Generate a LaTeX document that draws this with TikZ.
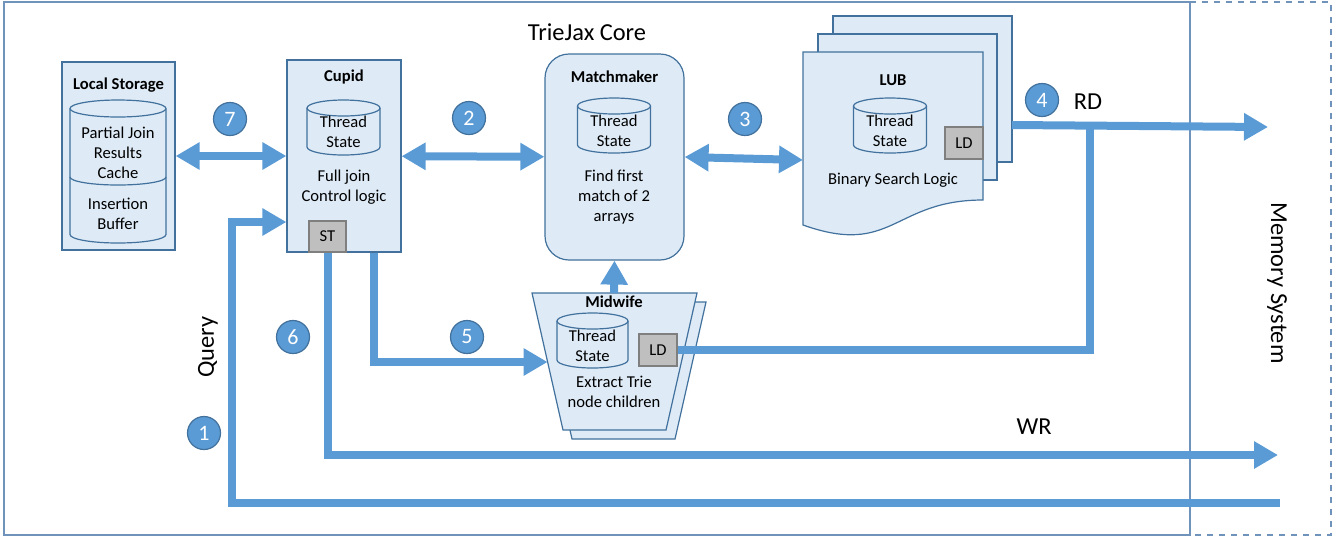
\documentclass[tikz,border=0pt]{standalone}
\usepackage{fontspec}
\setmainfont{Carlito}
\usetikzlibrary{arrows.meta}
\usetikzlibrary{positioning}
\definecolor{boxfill}{HTML}{DEEBF7}
\definecolor{boxline}{HTML}{41719C}
\definecolor{flow}{HTML}{5B9BD5}
\definecolor{corelin}{HTML}{6F93BA}
\definecolor{stfill}{HTML}{BFBFBF}
\definecolor{stline}{HTML}{7F7F7F}
\newcommand{\boxfont}[0]{\fontsize{8.3}{10}\selectfont}
\newcommand{\labfont}[0]{\fontsize{12.2}{14}\selectfont}
% cylinder: centre x, top y, width, height, end radius (all in px)
\newcommand{\drum}[5]{
\draw [boxline, fill=boxfill, line width=0.6pt] ({#1-#3/2},{#2+#5}) -- ({#1-#3/2},{#2+#4-#5})
    arc [start angle=180, end angle=0, x radius={#3/2}, y radius=#5]
    -- ({#1+#3/2},{#2+#5}) arc [start angle=0, end angle=-180, x radius={#3/2}, y radius=#5] -- cycle;
\draw [boxline, line width=0.6pt] ({#1-#3/2},{#2+#5}) arc [start angle=180, end angle=0, x radius={#3/2}, y radius=#5];
}

\begin{document}
\begin{tikzpicture}[x=0.5pt,y=-0.5pt]
\tikzstyle{unit} = [rectangle, draw=boxline, fill=boxfill, line width=0.6pt, inner sep=0]
\tikzstyle{title} = [font=\boxfont\bfseries, inner sep=0]
\tikzstyle{body} = [font=\boxfont, align=center, inner sep=0]
\tikzstyle{reg} = [rectangle, draw=stline, fill=stfill, line width=0.6pt, minimum width=19pt, minimum height=16pt, inner sep=0, font=\boxfont]
\tikzstyle{num} = [circle, draw=boxline, fill=flow, line width=0.6pt, minimum size=16.5pt, inner sep=0, text=white, font=\fontsize{11}{12}\selectfont]
\tikzstyle{arrow} = [flow, line width=4pt, -{Triangle[length=12pt,width=13pt]}]
\tikzstyle{twoway} = [flow, line width=4pt, {Triangle[length=12pt,width=13pt]}-{Triangle[length=12pt,width=13pt]}]

\useasboundingbox (0,0) rectangle (1336,537);

% frames
\draw [corelin, line width=0.8pt] (4,2) rectangle (1190,535);
\draw [corelin, line width=0.8pt, dashed] (1190,2) -- (1331,2) -- (1331,535) -- (1190,535);
\node (core) [font=\labfont, inner sep=0] at (587,32) {TrieJax Core};
\node (mem) [font=\labfont, inner sep=0, rotate=-90] at (1277,283) {Memory System};

% local storage
\node (local) [unit, minimum width=56.5pt, minimum height=94pt] at (118.5,156) {};
\node (localt) [title] at (118.5,85) {Local Storage};
\drum{118}{100}{96}{143}{8.5}
\draw [boxline, line width=0.6pt] (70,177) arc [start angle=180, end angle=0, x radius=48, y radius=8];
\node (cachet) [body] at (118,153) {Partial Join\\Results\\Cache};
\node (buft) [body] at (118,214) {Insertion\\Buffer};

% cupid
\node (cupid) [unit, minimum width=57pt, minimum height=96pt] at (344,156) {};
\node (cupidt) [title] at (344,77) {Cupid};
\drum{343.5}{100}{73}{55}{8}
\node (cupcyl) [body] at (343.5,132) {Thread\\State};
\node (cupidb) [body] at (344,187) {Full join\\Control logic};
\node (cupst) [reg, minimum width=18.5pt, minimum height=15.5pt] at (327.5,236.5) {ST};

% matchmaker
\node (match) [unit, rounded corners=12pt, minimum width=69.5pt, minimum height=103pt] at (614.5,157) {};
\node (matcht) [title] at (614.5,77) {Matchmaker};
\drum{614}{98}{73}{55}{8}
\node (mmcyl) [body] at (614,131) {Thread\\State};
\node (matchb) [body] at (614,197) {Find first\\match of 2\\arrays};

% lub (stacked documents)
\draw [boxline, fill=boxfill, line width=0.6pt] (833,16) rectangle (1012,162);
\draw [boxline, fill=boxfill, line width=0.6pt] (818,34) rectangle (997,180);
\draw [boxline, fill=boxfill, line width=0.6pt] (803,52) -- (983,52) -- (983,200)
    .. controls (893,200) and (893,257) .. (803,225) -- cycle;
\coordinate (lubw) at (803,160);
\coordinate (lube) at (1012,125);
\node (lubt) [title] at (893,80) {LUB};
\drum{890}{98}{73}{55}{8}
\node (lubcyl) [body] at (890,131) {Thread\\State};
\node (lubld) [reg] at (964,143) {LD};
\node (lubb) [body] at (893,180) {Binary Search Logic};

% midwife
\draw [boxline, fill=boxfill, line width=0.6pt] (541,302) -- (706,302) -- (675,439) -- (572,439) -- cycle;
\draw [boxline, fill=boxfill, line width=0.6pt] (532,293) -- (697,293) -- (666,430) -- (563,430) -- cycle;
\coordinate (mwtop) at (614,293);
\coordinate (mwin) at (547.6,362);
\node (mwt) [title] at (614,302) {Midwife};
\drum{592.5}{313}{71}{55}{8}
\node (mwcyl) [body] at (592.5,346) {Thread\\State};
\node (mwld) [reg] at (658,350) {LD};
\node (mwb) [body] at (614,392) {Extract Trie\\node children};

% memory side end points
\coordinate (rdout) at (1268,127);
\coordinate (rdjoin) at (1090,126);
\coordinate (wrout) at (1278,455);
\coordinate (qin) at (1280,503);
\coordinate (qbend) at (232,222);

% connectors
\draw [twoway] (local) -- (cupid);
\draw [twoway] (cupid) -- (match);
\draw [twoway] (match.east) -- (lubw);
\draw [arrow] (lube) -- (rdout);
\draw [flow, line width=4pt] (mwld.east) -| (rdjoin);
\draw [arrow] (mwtop) -- (match.south);
\draw [arrow] ([xshift=15pt]cupid.south) |- (mwin);
\draw [arrow] (cupst.south) |- (wrout);
\draw [arrow] (qin) -| (qbend) -- (qbend -| cupid.west);

% labels
\node (rd) [font=\labfont, inner sep=0] at (1088,102) {RD};
\node (wr) [font=\labfont, inner sep=0] at (1034,427) {WR};
\node (query) [font=\labfont, inner sep=0, rotate=90] at (208,347) {Query};

\foreach \n/\x/\y in {1/204/433, 2/469/118, 3/745/119, 4/1042/100, 5/467/337, 6/293/337, 7/230/119}
{
\node (step\n) [num] at (\x,\y) {\n};
}

\end{tikzpicture}
\end{document}
